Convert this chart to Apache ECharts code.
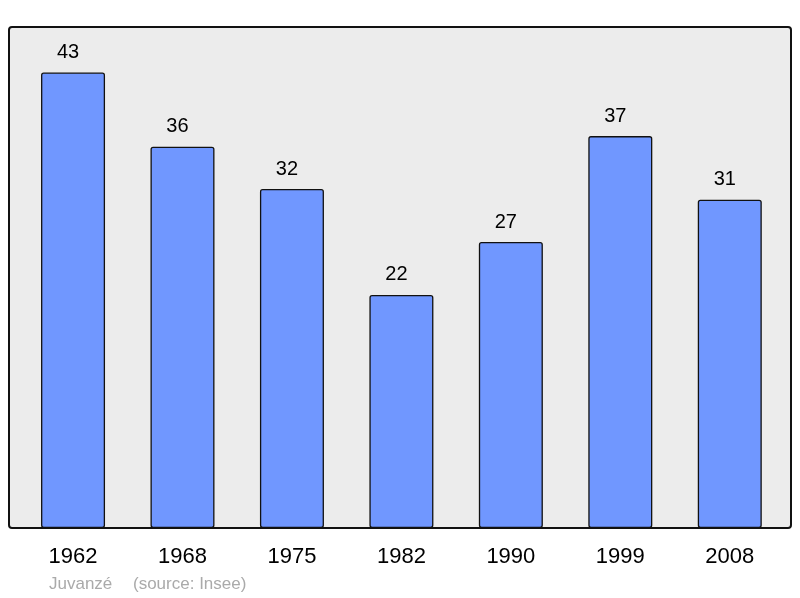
<!DOCTYPE html>
<html><head><meta charset="utf-8">
<script src="https://cdn.jsdelivr.net/npm/echarts@6/dist/echarts.min.js"></script>
<style>html,body{margin:0;padding:0;background:#fff}#c{width:800px;height:598px}</style>
</head><body><div id="c"></div>
<script>
const years = ['1962','1968','1975','1982','1990','1999','2008'];
const population = [43, 36, 32, 22, 27, 37, 31];
const placeName = 'Juvanzé';
const sourceText = '(source: Insee)';

const chart = echarts.init(document.getElementById('c'), null, {renderer:'canvas'});
chart.setOption({
  animation: false,
  backgroundColor: '#ffffff',
  graphic: [
    {type:'rect', shape:{x:9, y:27, width:782, height:501, r:3}, style:{fill:'#ececec', stroke:'#111', lineWidth:2}, z:-10},
    {type:'text', left:49, top:576, style:{text:placeName, fill:'#aaaaaa', font:'17px "Liberation Sans", Arial, sans-serif'}},
    {type:'text', left:133, top:576, style:{text:sourceText, fill:'#aaaaaa', font:'17px "Liberation Sans", Arial, sans-serif'}}
  ],
  grid: {left:18.3, right:15.5, top:27, bottom:70, containLabel:false},
  xAxis: {
    type:'category', data: years,
    axisLine:{show:false}, axisTick:{show:false}, splitLine:{show:false},
    axisLabel:{color:'#000', fontSize:22, fontFamily:'"Liberation Sans", Arial, sans-serif', margin:18}
  },
  yAxis: {type:'value', min:0, max:47.3, show:false, splitLine:{show:false}},
  series: [{
    type:'bar', data: population, barWidth:64,
    itemStyle:{color:'#7097ff', borderColor:'#111', borderWidth:1.3, borderRadius:2},
    label:{show:true, position:'top', distance:10, offset:[-5,0], color:'#000', fontSize:20, fontFamily:'"Liberation Sans", Arial, sans-serif'}
  }]
});
</script></body></html>
